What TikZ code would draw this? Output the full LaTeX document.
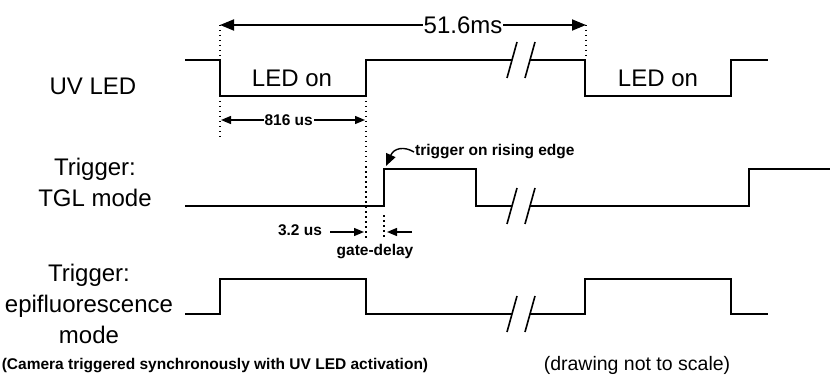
\documentclass[tikz,border=0pt]{standalone}
\usepackage{fontspec}
\setmainfont{Liberation Sans}
\usetikzlibrary{arrows.meta, positioning, calc}

\begin{document}
\begin{tikzpicture}[x=1pt, y=-1pt,
    signal/.style={line width=2pt, line join=miter},
    guide/.style={line width=1.5pt, dash pattern=on 1.5pt off 3.5pt},
    brk/.style={line width=1.6pt},
    tip/.style={-{Triangle[length=10pt, width=8pt]}, line width=1.4pt},
    span/.style={{Triangle[length=10pt, width=8pt]}-{Triangle[length=10pt, width=8pt]}, line width=1.4pt},
    bigspan/.style={{Triangle[length=14pt, width=11pt]}-{Triangle[length=14pt, width=11pt]}, line width=1.8pt},
    rowlabel/.style={font=\fontsize{24}{31}\selectfont, align=center, inner sep=1pt},
    note/.style={font=\fontsize{15.5}{18}\selectfont\bfseries, inner sep=1pt},
]
\useasboundingbox (0,0) rectangle (830,377);

% UV LED
\node[rowlabel] (uvlab) at (93,86) {UV LED};
\draw[signal] (185,60) -- (220,60) -- (220,96) -- (366,96) -- (366,60) -- (512,60);
\draw[signal] (530,60) -- (585,60) -- (585,96) -- (731,96) -- (731,60) -- (768,60);
\node[rowlabel] (on1) at (292,78) {LED on};
\node[rowlabel] (on2) at (658,78) {LED on};

% Trigger: TGL mode
\node[rowlabel] (tgllab) at (95,182) {Trigger:\\TGL mode};
\draw[signal] (185,206) -- (384,206) -- (384,169) -- (476,169) -- (476,206) -- (512,206);
\draw[signal] (530,206) -- (749,206) -- (749,169) -- (830,169);

% Trigger: epifluorescence mode
\node[rowlabel] (epilab) at (89,304) {Trigger:\\epifluorescence\\mode};
\draw[signal] (185,314) -- (220,314) -- (220,279) -- (366,279) -- (366,314) -- (512,314);
\draw[signal] (530,314) -- (585,314) -- (585,279) -- (731,279) -- (731,314) -- (768,314);

% time breaks
\foreach \y in {60,206,314} {
    \draw[brk] (507,\y+18) -- (517,\y-18);
    \draw[brk] (525,\y+18) -- (535,\y-18);
}

% period
\coordinate (pa) at (220,25);
\coordinate (pb) at (586,25);
\draw[guide] (pa) -- (220,60);
\draw[guide] (pb) -- (586,60);
\draw[bigspan] (pa) -- (pb) node[pos=0.664, rowlabel, fill=white] (period) {51.6ms};

% LED on duration
\coordinate (da) at (221,120);
\coordinate (db) at (365,120);
\draw[guide] (220,96) -- (220,138);
\draw[guide] (366,96) -- (366,240);
\draw[span] (da) -- (db) node[pos=0.47, note, fill=white] (dur) {816 us};

% gate delay
\coordinate (ga) at (330,232);
\coordinate (gb) at (364,232);
\coordinate (gc) at (412,232);
\coordinate (gd) at (387,232);
\draw[guide] (384,215) -- (384,240);
\node[note] (gtime) at (300,230) {3.2 us};
\draw[tip] (ga) -- (gb);
\draw[tip] (gc) -- (gd);
\node[note] (gname) at (375,252) {gate-delay};

% rising edge note
\node[note, anchor=west] (edge) at (414,152) {trigger on rising edge};
\coordinate (edgetip) at (386,166);
\draw[tip, -{Triangle[length=12pt, width=10pt]}] (edge.west) .. controls (404,146) and (394,148) .. (edgetip);

% footer
\node[note] (foot) at (215,366) {(Camera triggered synchronously with UV LED activation)};
\node[font=\fontsize{19.5}{22}\selectfont, inner sep=1pt] (scale) at (637,365) {(drawing not to scale)};

\end{tikzpicture}
\end{document}
